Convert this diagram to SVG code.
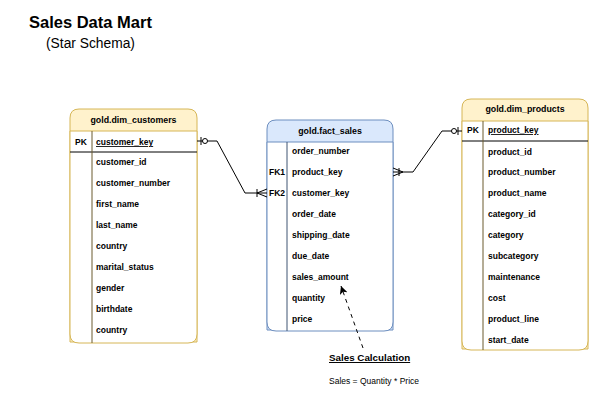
<svg xmlns="http://www.w3.org/2000/svg" width="603" height="410" viewBox="0 0 603 410">
<style>
text{font-family:"Liberation Sans",Arial,Helvetica,sans-serif;fill:#000}
.hd{font-size:8.8px;font-weight:bold;text-anchor:middle}
.f{font-size:8.5px;font-weight:bold}
.u{text-decoration:underline}
.dim{fill:#fff2cc;stroke:#d6b656;stroke-width:1}
.dimb{fill:#fff;stroke:#d6b656;stroke-width:1}
.fact{fill:#dae8fc;stroke:#6c8ebf;stroke-width:1}
.factb{fill:#fff;stroke:#6c8ebf;stroke-width:1}
.div{stroke:#6b5a2e;stroke-width:1}
.divf{stroke:#3f5473;stroke-width:1}
.pk{stroke:#000;stroke-width:1}
.c{fill:none;stroke:#000;stroke-width:1}
</style>
<defs>
<marker id="arr" markerWidth="10" markerHeight="10" refX="8" refY="4" orient="auto" markerUnits="userSpaceOnUse">
<path d="M0,0 L8,4 L0,8 L2,4 z" fill="#000"/>
</marker>
</defs>

<g id="title">
<text x="29" y="28" style="font-size:16.5px;font-weight:bold">Sales Data Mart</text>
<text x="46" y="48" style="font-size:13.8px">(Star Schema)</text>
</g>

<g id="dim_customers">
<path class="dim" d="M70,342 V118 Q70,109 79,109 H188 Q197,109 197,118 V342 Z"/>
<path class="dimb" d="M70,131 H197 V334 Q197,343 188,343 H79 Q70,343 70,334 Z"/>
<line class="pk" x1="70" y1="152" x2="197" y2="152"/>
<line class="div" x1="92" y1="131" x2="92" y2="343"/>
<text class="hd" x="133.5" y="123">gold.dim_customers</text>
<text class="f" x="75" y="145">PK</text>
<text class="f u" x="96" y="145">customer_key</text>
<text class="f" x="96" y="165">customer_id</text>
<text class="f" x="96" y="186">customer_number</text>
<text class="f" x="96" y="207">first_name</text>
<text class="f" x="96" y="228">last_name</text>
<text class="f" x="96" y="249">country</text>
<text class="f" x="96" y="270">marital_status</text>
<text class="f" x="96" y="291">gender</text>
<text class="f" x="96" y="312">birthdate</text>
<text class="f" x="96" y="333">country</text>
</g>

<g id="fact_sales">
<path class="fact" d="M267,330 V129 Q267,120 276,120 H384 Q393,120 393,129 V330 Z"/>
<path class="factb" d="M267,142 H393 V322 Q393,331 384,331 H276 Q267,331 267,322 Z"/>
<line class="divf" x1="287" y1="142" x2="287" y2="331"/>
<text class="hd" x="330" y="134">gold.fact_sales</text>
<text class="f" x="269" y="175">FK1</text>
<text class="f" x="269" y="196">FK2</text>
<text class="f" x="292" y="154">order_number</text>
<text class="f" x="292" y="175">product_key</text>
<text class="f" x="292" y="196">customer_key</text>
<text class="f" x="292" y="217">order_date</text>
<text class="f" x="292" y="238">shipping_date</text>
<text class="f" x="292" y="259">due_date</text>
<text class="f" x="292" y="280">sales_amount</text>
<text class="f" x="292" y="301">quantity</text>
<text class="f" x="292" y="322">price</text>
</g>

<g id="dim_products">
<path class="dim" d="M462,349 V108 Q462,99 471,99 H579 Q588,99 588,108 V349 Z"/>
<path class="dimb" d="M462,121 H588 V341 Q588,350 579,350 H471 Q462,350 462,341 Z"/>
<line class="pk" x1="462" y1="141" x2="588" y2="141"/>
<line class="div" x1="483" y1="121" x2="483" y2="350"/>
<text class="hd" x="525" y="112">gold.dim_products</text>
<text class="f" x="467" y="133">PK</text>
<text class="f u" x="488" y="133">product_key</text>
<text class="f" x="488" y="155">product_id</text>
<text class="f" x="488" y="175">product_number</text>
<text class="f" x="488" y="196">product_name</text>
<text class="f" x="488" y="217">category_id</text>
<text class="f" x="488" y="238">category</text>
<text class="f" x="488" y="259">subcategory</text>
<text class="f" x="488" y="280">maintenance</text>
<text class="f" x="488" y="301">cost</text>
<text class="f" x="488" y="322">product_line</text>
<text class="f" x="488" y="343">start_date</text>
</g>

<g id="connectors">
<path class="c" d="M197,141 H217 L245,193 H267"/>
<line class="c" x1="201" y1="137" x2="201" y2="145"/>
<circle cx="205" cy="141" r="2.5" fill="#fff" stroke="#000"/>
<path class="c" d="M257,193 L267,189 M257,193 L267,197 M257,189 V197"/>
<path class="c" d="M393,172 H413 L442,131 H462"/>
<line class="c" x1="458" y1="127" x2="458" y2="135"/>
<circle cx="454" cy="131" r="2.5" fill="#fff" stroke="#000"/>
<path class="c" d="M403,172 L393,168 M403,172 L393,176 M399,168 V176"/>
<path class="c" d="M363,348 L341,286" stroke-dasharray="4 4" marker-end="url(#arr)"/>
</g>

<g id="note">
<text x="329" y="361" style="font-size:9.8px;font-weight:bold;text-decoration:underline">Sales Calculation</text>
<text x="329" y="384" style="font-size:8.5px">Sales = Quantity * Price</text>
</g>
</svg>
